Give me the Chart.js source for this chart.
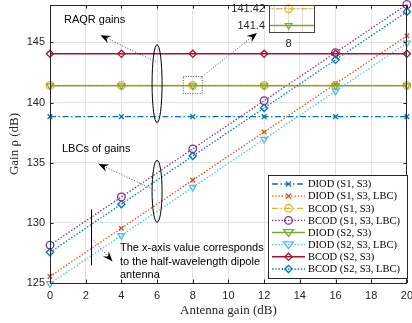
<!DOCTYPE html>
<html>
<head>
<meta charset="utf-8">
<script src="https://cdn.jsdelivr.net/npm/chart.js@4.4.1/dist/chart.umd.min.js"></script>
<style>
html,body{margin:0;padding:0;background:#fff;overflow:hidden;}
#wrap{position:relative;width:412px;height:323px;}
#main{position:absolute;left:0;top:0;}
#inset{position:absolute;left:220px;top:0;}
</style>
</head>
<body>
<div id="wrap">
<canvas id="main" width="412" height="323"></canvas>
<canvas id="inset" width="100" height="50"></canvas>
</div>
<script>
// ---- data ----
const gains = [0, 4, 8, 12, 16, 20];
const diodS1S3     = [138.83, 138.83, 138.83, 138.83, 138.83, 138.83];
const diodS1S3LBC  = [125.55, 129.55, 133.55, 137.55, 141.55, 145.55];
const bcodS1S3     = [141.42, 141.42, 141.42, 141.42, 141.42, 141.42];
const bcodS1S3LBC  = [128.15, 132.15, 136.15, 140.15, 144.15, 148.15];
const diodS2S3     = [141.40, 141.40, 141.40, 141.40, 141.40, 141.40];
const diodS2S3LBC  = [124.95, 128.95, 132.95, 136.95, 140.95, 144.95];
const bcodS2S3     = [144.05, 144.05, 144.05, 144.05, 144.05, 144.05];
const bcodS2S3LBC  = [127.55, 131.55, 135.55, 139.55, 143.55, 147.55];
const seriesNames = ['DIOD (S1, S3)','DIOD (S1, S3, LBC)','BCOD (S1, S3)','BCOD (S1, S3, LBC)','DIOD (S2, S3)','DIOD (S2, S3, LBC)','BCOD (S2, S3)','BCOD (S2, S3, LBC)'];
const xTicks = [0,2,4,6,8,10,12,14,16,18,20];
const yTicks = [125,130,135,140,145];
const insetYTicks = [141.4, 141.42];
const insetXTicks = [7.5, 8, 8.5];

const DASHDOT = [6,2.5,1.5,2.5];
const DOT = [1.4,1.8];
const styles = [
  {c:'#0072BD', dash:DASHDOT, w:1.3, pt:'crossRot', r:3.3, rot:0},
  {c:'#D95319', dash:DOT, w:1.3, pt:'crossRot', r:3.3, rot:0},
  {c:'#EDB120', dash:DASHDOT, w:1.3, pt:'circle', r:3.8, rot:0},
  {c:'#7E2F8E', dash:DOT, w:1.3, pt:'circle', r:3.8, rot:0},
  {c:'#77AC30', dash:[], w:1.5, pt:'triangle', r:3.8, rot:180},
  {c:'#4DBEEE', dash:DOT, w:1.3, pt:'triangle', r:3.8, rot:180},
  {c:'#A2142F', dash:[], w:1.5, pt:'rectRot', r:3.6, rot:0},
  {c:'#0072BD', dash:DOT, w:1.3, pt:'rectRot', r:3.6, rot:0}
];
const seriesVals = [diodS1S3, diodS1S3LBC, bcodS1S3, bcodS1S3LBC, diodS2S3, diodS2S3LBC, bcodS2S3, bcodS2S3LBC];

function makeDataset(i, vals){
  const s = styles[i];
  return {
    label: seriesNames[i],
    data: gains.map((g,k)=>({x:g, y:vals[k]})),
    borderColor: s.c, backgroundColor: 'rgba(0,0,0,0)',
    borderWidth: s.w, borderDash: s.dash,
    pointStyle: s.pt, pointRadius: s.r, pointRotation: s.rot,
    pointBorderWidth: 1.3, pointBorderColor: s.c, pointBackgroundColor: 'rgba(0,0,0,0)',
    pointHoverRadius: s.r,
    tension: 0, fill: false, clip: false,
    order: 8 - i
  };
}

const SANS = '"Liberation Sans", Arial, sans-serif';
const SERIF = '"Liberation Serif", "Times New Roman", serif';
const AX = '#262626';

function drawMarker(ctx, s, x, y){
  ctx.save();
  ctx.strokeStyle = s.c; ctx.lineWidth = 1.3; ctx.setLineDash([]);
  ctx.beginPath();
  const r = s.r;
  if (s.pt === 'circle') { ctx.arc(x, y, r, 0, Math.PI*2); }
  else if (s.pt === 'crossRot') { const d=r*0.8; ctx.moveTo(x-d,y-d); ctx.lineTo(x+d,y+d); ctx.moveTo(x+d,y-d); ctx.lineTo(x-d,y+d); }
  else if (s.pt === 'triangle') { const h=r*1.5, w=r*1.3; ctx.moveTo(x-w, y-h/2); ctx.lineTo(x+w, y-h/2); ctx.lineTo(x, y+h/2+1); ctx.closePath(); }
  else if (s.pt === 'rectRot') { ctx.moveTo(x, y-r); ctx.lineTo(x+r, y); ctx.lineTo(x, y+r); ctx.lineTo(x-r, y); ctx.closePath(); }
  ctx.stroke();
  ctx.restore();
}

function arrow(ctx, x1, y1, x2, y2){
  ctx.save();
  ctx.strokeStyle = '#444'; ctx.lineWidth = 0.9; ctx.setLineDash([1,1.8]);
  ctx.beginPath(); ctx.moveTo(x1,y1); ctx.lineTo(x2,y2); ctx.stroke();
  ctx.setLineDash([]);
  const a = Math.atan2(y2-y1, x2-x1);
  const L = 10, W = 4;
  ctx.translate(x2, y2); ctx.rotate(a);
  ctx.fillStyle = '#000';
  ctx.beginPath(); ctx.moveTo(0,0); ctx.lineTo(-L, -W); ctx.lineTo(-L*0.65, 0); ctx.lineTo(-L, W); ctx.closePath(); ctx.fill();
  ctx.restore();
}

const framePlugin = {
  id: 'frame',
  afterDatasetsDraw(chart){
    const ctx = chart.ctx, a = chart.chartArea, xs = chart.scales.x, ys = chart.scales.y;
    ctx.save();
    // box
    ctx.strokeStyle = AX; ctx.lineWidth = 1;
    ctx.strokeRect(Math.round(a.left)+0.5, Math.round(a.top)+0.5, Math.round(a.right-a.left)-1, Math.round(a.bottom-a.top));
    // inward ticks
    ctx.beginPath();
    xTicks.forEach(v=>{ const px = Math.round(xs.getPixelForValue(v))+0.5; ctx.moveTo(px, a.bottom); ctx.lineTo(px, a.bottom-3.5); ctx.moveTo(px, a.top); ctx.lineTo(px, a.top+3.5); });
    yTicks.forEach(v=>{ const py = Math.round(ys.getPixelForValue(v))+0.5; ctx.moveTo(a.left, py); ctx.lineTo(a.left+3.5, py); ctx.moveTo(a.right, py); ctx.lineTo(a.right-3.5, py); });
    ctx.stroke();

    const P = (x,y)=>[xs.getPixelForValue(x), ys.getPixelForValue(y)];
    // annotations
    ctx.strokeStyle = '#000'; ctx.lineWidth = 1;
    let [ex, ey] = P(6, 141.57);
    ctx.beginPath(); ctx.ellipse(ex, ey, 5, 39, 0, 0, Math.PI*2); ctx.stroke();
    [ex, ey] = P(6, 132.62);
    ctx.beginPath(); ctx.ellipse(ex, ey, 5, 31, 0, 0, Math.PI*2); ctx.stroke();
    // dotted zoom box around (8, 141.4)
    const [bx, by] = P(8, 141.41);
    ctx.save(); ctx.setLineDash([1,1.5]); ctx.strokeStyle='#333'; ctx.lineWidth=0.9;
    ctx.strokeRect(bx-9.5, by-9, 19, 17); ctx.restore();
    // vertical marker line
    const [vx, vt] = P(2.3, 131.12); const vb = ys.getPixelForValue(126.47);
    ctx.beginPath(); ctx.moveTo(Math.round(vx)+0.5, vt); ctx.lineTo(Math.round(vx)+0.5, vb); ctx.stroke();

    // arrows
    let t = P(5.94, 143.37), h = P(2.83, 145.6); arrow(ctx, t[0], t[1], h[0], h[1]);
    t = P(5.9, 132.7); h = P(2.72, 134.9); arrow(ctx, t[0], t[1], h[0], h[1]);
    arrow(ctx, bx+9.5, by-9, 257, 33);
    t = P(2.4, 128.6); h = P(3.5, 126.8); arrow(ctx, t[0], t[1], h[0], h[1]);

    // texts
    ctx.fillStyle = '#000'; ctx.font = '11px ' + SANS; ctx.textBaseline = 'middle'; ctx.textAlign = 'left';
    ctx.fillText('RAQR gains', 64, 20);
    ctx.fillText('LBCs of gains', 62, 149);
    ctx.fillText('The x-axis value corresponds', 120, 248);
    ctx.fillText('to the half-wavelength dipole', 120, 261.5);
    ctx.fillText('antenna', 120, 275);

    // legend
    const L=268, T=175, W=139, H=103;
    ctx.fillStyle='#fff'; ctx.fillRect(L,T,W,H);
    ctx.strokeStyle=AX; ctx.lineWidth=1; ctx.strokeRect(L+0.5,T+0.5,W,H);
    ctx.font = '10.5px ' + SERIF; ctx.fillStyle = '#000';
    styles.forEach((s,i)=>{
      const y = 184 + i*12.14;
      ctx.save();
      ctx.strokeStyle = s.c; ctx.lineWidth = s.w; ctx.setLineDash(s.dash);
      ctx.beginPath(); ctx.moveTo(272,y); ctx.lineTo(305,y); ctx.stroke();
      ctx.restore();
      drawMarker(ctx, s, 288.5, y);
      ctx.fillStyle = '#000';
      ctx.fillText(seriesNames[i], 308, y+0.5);
    });
    ctx.restore();
  }
};

new Chart(document.getElementById('main'), {
  type: 'line',
  data: { datasets: seriesVals.map((v,i)=>makeDataset(i, v)) },
  options: {
    responsive: false, animation: false, events: [],
    layout: { padding: { top: 0, right: 2, left: 0, bottom: 0 } },
    plugins: { legend: { display: false }, tooltip: { enabled: false } },
    scales: {
      x: {
        type: 'linear', min: 0, max: 20,
        afterBuildTicks: s => { s.ticks = xTicks.map(v=>({value:v})); },
        afterFit: s => { s.height = 40; s.paddingLeft = 0; s.paddingRight = 0; },
        ticks: { font: { size: 11, family: SANS }, color: AX, padding: 6, maxRotation: 0, autoSkip: false },
        grid: { color: '#e2e2e2', drawTicks: false, lineWidth: 1 },
        border: { display: false },
        title: { display: true, text: 'Antenna gain (dB)', font: { size: 13, family: SERIF }, color: AX, padding: { top: 0, bottom: 5 } }
      },
      y: {
        type: 'linear', min: 125, max: 148.1,
        afterBuildTicks: s => { s.ticks = yTicks.map(v=>({value:v})); },
        afterFit: s => { s.width = 50; s.paddingTop = 0; s.paddingBottom = 0; },
        ticks: { font: { size: 11, family: SANS }, color: AX, padding: 5, autoSkip: false },
        grid: { color: '#e2e2e2', drawTicks: false, lineWidth: 1 },
        border: { display: false },
        title: { display: true, text: 'Gain ρ (dB)', font: { size: 13, family: SERIF }, color: AX, padding: { top: 7, bottom: 0 } }
      }
    }
  },
  plugins: [framePlugin]
});

// ---- inset (zoom of the two nearly equal lines at gain 8) ----
const insetPlugin = {
  id: 'insetFrame',
  beforeDraw(chart){
    const a = chart.chartArea, ctx = chart.ctx;
    ctx.save(); ctx.fillStyle = '#fff'; ctx.fillRect(a.left, a.top, a.right-a.left, a.bottom-a.top); ctx.restore();
  },
  afterDatasetsDraw(chart){
    const a = chart.chartArea, ctx = chart.ctx;
    ctx.save(); ctx.strokeStyle = '#444'; ctx.lineWidth = 1;
    ctx.strokeRect(Math.round(a.left)+0.5, Math.round(a.top)+0.5, Math.round(a.right-a.left)-1, Math.round(a.bottom-a.top)-1);
    ctx.restore();
  }
};
const insetSets = [2, 4].map(i => makeDataset(i, seriesVals[i]));
insetSets.forEach(d => { d.clip = { left: 0, right: 0, top: 5, bottom: 0 }; });
new Chart(document.getElementById('inset'), {
  type: 'line',
  data: { datasets: insetSets },
  options: {
    responsive: false, animation: false, events: [],
    layout: { padding: { top: 3, right: 2, left: 0, bottom: 0 } },
    plugins: { legend: { display: false }, tooltip: { enabled: false } },
    scales: {
      x: {
        type: 'linear', min: 7.3, max: 8.933,
        afterBuildTicks: s => { s.ticks = insetXTicks.map(v=>({value:v})); },
        afterFit: s => { s.height = 17; s.paddingLeft = 0; s.paddingRight = 0; },
        ticks: { font: { size: 11, family: SANS }, color: AX, padding: 4, maxRotation: 0, autoSkip: false,
                 callback: v => (v === 8 ? '8' : '') },
        grid: { color: '#dcdcdc', drawTicks: false },
        border: { display: false }
      },
      y: {
        type: 'linear', min: 141.391, max: 141.4244,
        afterBuildTicks: s => { s.ticks = insetYTicks.map(v=>({value:v})); },
        afterFit: s => { s.width = 49; s.paddingTop = 0; s.paddingBottom = 0; },
        ticks: { font: { size: 11, family: SANS }, color: AX, padding: 4, autoSkip: false,
                 callback: v => String(Math.round(v*100)/100) },
        grid: { color: '#dcdcdc', drawTicks: false },
        border: { display: false }
      }
    }
  },
  plugins: [insetPlugin]
});
</script>
</body>
</html>
